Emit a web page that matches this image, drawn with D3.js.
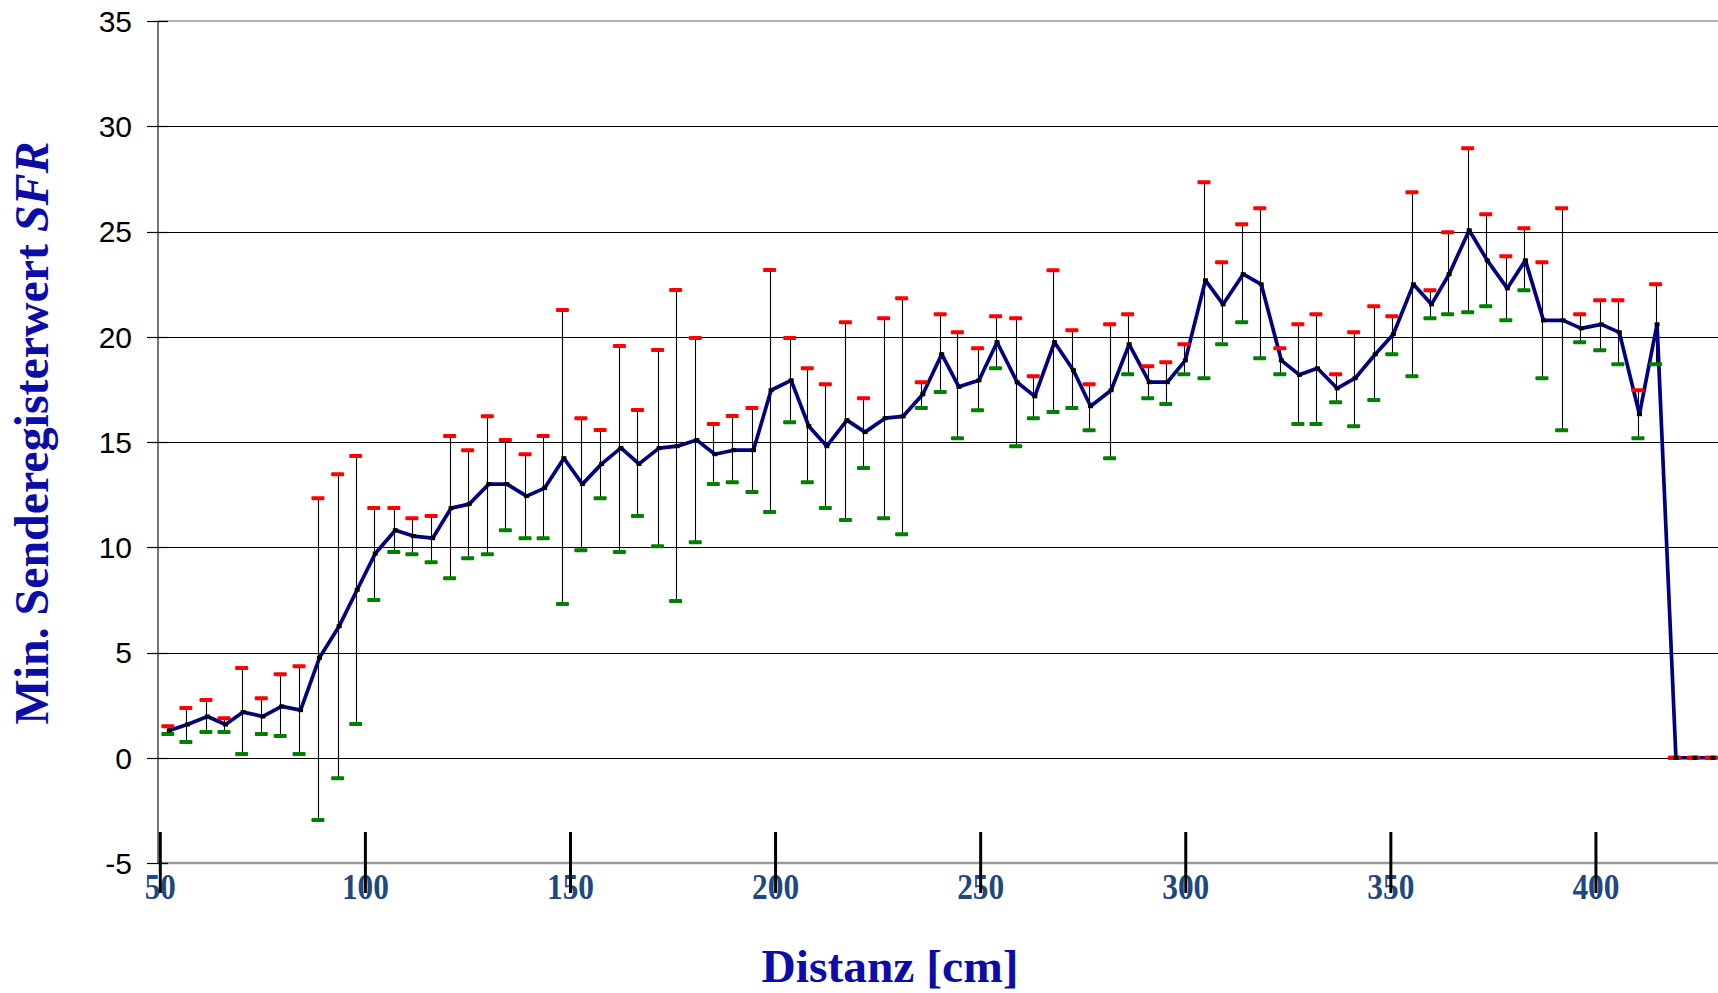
<!DOCTYPE html>
<html>
<head>
<meta charset="utf-8">
<script src="https://cdn.jsdelivr.net/npm/d3@7"></script>
<style>
  html, body { margin: 0; padding: 0; background: #fff; }
  svg { display: block; }
</style>
</head>
<body>
<svg id="chart" width="1718" height="993"></svg>
<script>
// ---- data ----
const distance = [52.2, 56.6, 61.5, 65.9, 70.2, 75.0, 79.6, 84.2, 88.8, 93.6,
  98.0, 102.4, 107.3, 111.7, 116.4, 120.9, 125.3, 130.1, 134.5, 139.3,
  143.7, 148.4, 152.9, 157.6, 162.3, 166.7, 171.6, 176.0, 180.8, 185.2,
  189.8, 194.6, 198.9, 203.8, 208.1, 212.5, 217.4, 221.8, 226.7, 231.1,
  235.9, 240.5, 244.7, 249.6, 254.0, 258.9, 263.2, 268.0, 272.6, 276.8,
  281.8, 286.2, 291.1, 295.5, 299.9, 304.8, 309.1, 314.0, 318.4, 323.3,
  327.7, 332.1, 336.9, 341.3, 346.2, 350.6, 355.5, 359.9, 364.2, 369.1,
  373.5, 378.4, 382.8, 387.2, 392.0, 396.4, 401.3, 405.7, 410.6, 414.9,
  419.5, 424.1, 428.5];

const sfrMean = [1.30, 1.58, 1.96, 1.58, 2.17, 1.96, 2.44, 2.26, 4.75, 6.25,
  7.98, 9.70, 10.81, 10.53, 10.43, 11.86, 12.05, 13.00, 13.00, 12.43,
  12.81, 14.23, 13.00, 13.96, 14.72, 13.96, 14.71, 14.80, 15.09, 14.42,
  14.61, 14.61, 17.46, 17.93, 15.75, 14.80, 16.04, 15.47, 16.13, 16.22,
  17.27, 19.17, 17.62, 17.93, 19.74, 17.84, 17.17, 19.74, 18.41, 16.70,
  17.46, 19.64, 17.84, 17.84, 18.88, 22.68, 21.54, 22.97, 22.49, 18.88,
  18.19, 18.50, 17.55, 18.03, 19.17, 20.12, 22.49, 21.54, 22.97, 25.06,
  23.63, 22.30, 23.63, 20.78, 20.78, 20.40, 20.59, 20.21, 16.32, 20.59,
  0, 0, 0];

const sfrUpper = [1.50, 2.36, 2.74, 1.88, 4.26, 2.83, 3.97, 4.35, 12.33, 13.47,
  14.33, 11.86, 11.86, 11.38, 11.48, 15.28, 14.61, 16.22, 15.09, 14.42,
  15.28, 21.27, 16.13, 15.57, 19.56, 16.52, 19.37, 22.22, 19.94, 15.86,
  16.24, 16.62, 23.17, 19.94, 18.50, 17.74, 20.69, 17.08, 20.88, 21.83,
  17.84, 21.07, 20.21, 19.45, 20.97, 20.88, 18.12, 23.16, 20.31, 17.74,
  20.59, 21.07, 18.60, 18.79, 19.64, 27.34, 23.54, 25.34, 26.10, 19.45,
  20.59, 21.07, 18.22, 20.21, 21.45, 20.97, 26.86, 22.21, 24.96, 28.95,
  25.82, 23.82, 25.15, 23.54, 26.10, 21.07, 21.73, 21.73, 17.46, 22.49,
  0, 0, 0];

const sfrLower = [1.13, 0.75, 1.22, 1.22, 0.18, 1.13, 1.03, 0.18, -2.96, -0.97,
  1.60, 7.49, 9.77, 9.67, 9.29, 8.53, 9.48, 9.67, 10.81, 10.43,
  10.43, 7.30, 9.86, 12.33, 9.77, 11.48, 10.05, 7.45, 10.24, 13.00,
  13.09, 12.62, 11.67, 15.94, 13.09, 11.86, 11.29, 13.76, 11.38, 10.62,
  16.61, 17.37, 15.18, 16.51, 18.50, 14.80, 16.13, 16.42, 16.61, 15.56,
  14.23, 18.22, 17.08, 16.80, 18.22, 18.03, 19.64, 20.69, 18.98, 18.22,
  15.85, 15.85, 16.89, 15.75, 16.99, 19.17, 18.12, 20.88, 21.07, 21.16,
  21.45, 20.78, 22.21, 18.03, 15.56, 19.74, 19.36, 18.69, 15.18, 18.69,
  0, 0, 0];

const xTicks = [50, 100, 150, 200, 250, 300, 350, 400];
const yTicks = [-5, 0, 5, 10, 15, 20, 25, 30, 35];

const xTitle = "Distanz [cm]";
const yTitleMain = "Min. Senderegisterwert ";
const yTitleItalic = "SFR";

// ---- layout ----
const svg = d3.select("#chart");
const W = 1718, H = 993;
svg.append("rect").attr("width", W).attr("height", H).attr("fill", "#fff");

const plotLeft = 158, plotTop = 21, plotBottom = 863, plotRight = 1719;
const x = d3.scaleLinear().domain([49.44, 430]).range([plotLeft, plotRight]);
const y = d3.scaleLinear().domain([-5, 35]).range([plotBottom, plotTop]);

const data = distance.map((d, i) => ({ x: d, m: sfrMean[i], hi: sfrUpper[i], lo: sfrLower[i] }));

// gridlines (interior black)
const grid = svg.append("g");
grid.selectAll("line.grid")
  .data(yTicks.filter(v => v !== -5 && v !== 35))
  .join("line")
  .attr("x1", 147).attr("x2", W)
  .attr("y1", d => Math.round(y(d)) + 0.5).attr("y2", d => Math.round(y(d)) + 0.5)
  .attr("stroke", "#000").attr("stroke-width", 1.2);

// top border (gray)
grid.append("line")
  .attr("x1", plotLeft).attr("x2", W)
  .attr("y1", y(35)).attr("y2", y(35))
  .attr("stroke", "#9a9a9a").attr("stroke-width", 1.5);

// bottom axis line (gray)
grid.append("line")
  .attr("x1", plotLeft).attr("x2", W)
  .attr("y1", y(-5)).attr("y2", y(-5))
  .attr("stroke", "#9a9a9a").attr("stroke-width", 2.5);

// y axis line
grid.append("line")
  .attr("x1", plotLeft).attr("x2", plotLeft)
  .attr("y1", y(35)).attr("y2", y(-5))
  .attr("stroke", "#555").attr("stroke-width", 1.6);

// y tick marks (cross)
grid.selectAll("line.ytick")
  .data(yTicks)
  .join("line")
  .attr("x1", 147).attr("x2", 168)
  .attr("y1", d => Math.round(y(d)) + 0.5).attr("y2", d => Math.round(y(d)) + 0.5)
  .attr("stroke", "#000").attr("stroke-width", 1.2);

// y tick labels
svg.append("g").selectAll("text")
  .data(yTicks)
  .join("text")
  .attr("x", 132)
  .attr("y", d => y(d))
  .attr("dy", "0.36em")
  .attr("text-anchor", "end")
  .attr("font-family", "'Liberation Sans', Arial, sans-serif")
  .attr("font-size", 30)
  .attr("fill", "#000")
  .text(d => d);

// x tick labels
svg.append("g").selectAll("text")
  .data(xTicks)
  .join("text")
  .attr("x", d => x(d))
  .attr("y", 899)
  .attr("text-anchor", "middle")
  .attr("font-family", "'Liberation Serif', 'Times New Roman', serif")
  .attr("font-weight", "bold")
  .attr("font-size", 35)
  .attr("fill", "#1F497D")
  .each(function(d) {
    const s = String(d);
    d3.select(this).attr("textLength", s.length === 2 ? 31 : 47).attr("lengthAdjust", "spacingAndGlyphs");
  })
  .text(d => d);

// x tick marks (thick, drawn over labels)
svg.append("g").selectAll("line")
  .data(xTicks)
  .join("line")
  .attr("x1", d => x(d)).attr("x2", d => x(d))
  .attr("y1", 832).attr("y2", 893)
  .attr("stroke", "#000").attr("stroke-width", 3);

// error bar vertical lines
const ebOff = -1.5;
svg.append("g").selectAll("line")
  .data(data)
  .join("line")
  .attr("x1", d => Math.round(x(d.x) + ebOff) + 0.5)
  .attr("x2", d => Math.round(x(d.x) + ebOff) + 0.5)
  .attr("y1", d => y(d.hi)).attr("y2", d => y(d.lo))
  .attr("stroke", "#000").attr("stroke-width", 1.1);

// main line
svg.append("path")
  .datum(data)
  .attr("fill", "none")
  .attr("stroke", "#000080")
  .attr("stroke-width", 3.7)
  .attr("stroke-linejoin", "round")
  .attr("d", d3.line().x(d => x(d.x)).y(d => y(d.m)));

// caps: lower (green) then upper (red)
const capW = 13, capH = 4;
svg.append("g").selectAll("rect")
  .data(data)
  .join("rect")
  .attr("x", d => x(d.x) + ebOff - capW / 2)
  .attr("y", d => y(d.lo) - capH / 2)
  .attr("width", capW).attr("height", capH).attr("rx", 1)
  .attr("fill", "#008000");
svg.append("g").selectAll("rect")
  .data(data)
  .join("rect")
  .attr("x", d => x(d.x) + ebOff - capW / 2)
  .attr("y", d => y(d.hi) - capH / 2)
  .attr("width", capW).attr("height", capH).attr("rx", 1)
  .attr("fill", "#ff0000");

// markers
svg.append("g").selectAll("rect")
  .data(data)
  .join("rect")
  .attr("x", d => x(d.x) - 2.5)
  .attr("y", d => y(d.m) - 2)
  .attr("width", 5).attr("height", 4)
  .attr("fill", "#000");

// axis titles
svg.append("text")
  .attr("x", 890)
  .attr("y", 982)
  .attr("text-anchor", "middle")
  .attr("font-family", "'Liberation Serif', 'Times New Roman', serif")
  .attr("font-weight", "bold")
  .attr("font-size", 46)
  .attr("fill", "#0C0CA8")
  .attr("textLength", 257)
  .attr("lengthAdjust", "spacingAndGlyphs")
  .text(xTitle);

const yt = svg.append("text")
  .attr("transform", "translate(48,433) rotate(-90)")
  .attr("text-anchor", "middle")
  .attr("font-family", "'Liberation Serif', 'Times New Roman', serif")
  .attr("font-weight", "bold")
  .attr("font-size", 48)
  .attr("fill", "#0C0CA8")
  .attr("textLength", 583)
  .attr("lengthAdjust", "spacingAndGlyphs");
yt.append("tspan").text(yTitleMain);
yt.append("tspan").attr("font-style", "italic").text(yTitleItalic);
</script>
</body>
</html>
